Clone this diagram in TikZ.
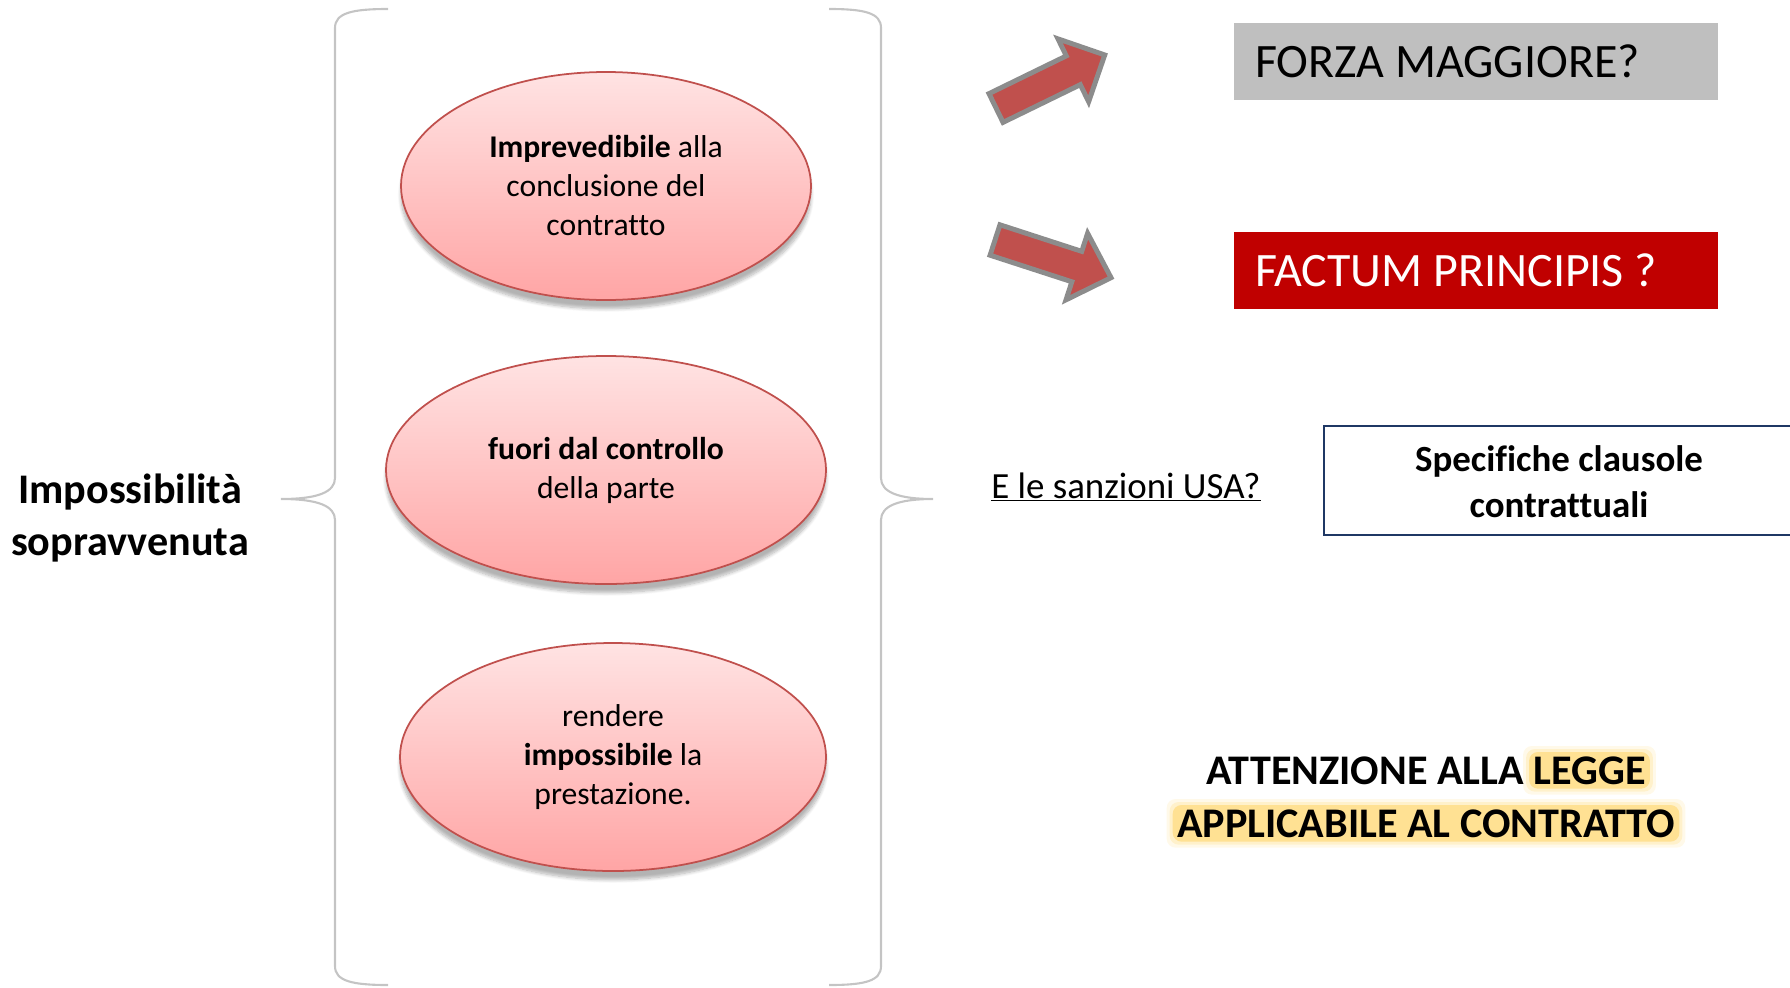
\documentclass[tikz,border=0pt]{standalone}
\usepackage{fontspec}
\setmainfont{Carlito}[Ligatures=CommonOff]
\usetikzlibrary{positioning,calc,shapes.geometric,shadows.blur,backgrounds}

\definecolor{rossobordo}{HTML}{C0504D}
\definecolor{rosachiaro}{HTML}{FFE3E3}
\definecolor{rosascuro}{HTML}{FFA5A5}
\definecolor{grigiofreccia}{HTML}{8C8C8C}
\definecolor{grigiobox}{HTML}{BFBFBF}
\definecolor{grigiograffa}{HTML}{C4C4C4}
\definecolor{rossobox}{HTML}{C00000}
\definecolor{blucornice}{HTML}{1F3864}
\definecolor{giallobagliore}{HTML}{FFE193}

\begin{document}
\begin{tikzpicture}[x=0.02cm, y=-0.02cm,
    ovale/.style={ellipse, draw=rossobordo, line width=1pt,
        top color=rosachiaro, bottom color=rosascuro,
        minimum width=#1, minimum height=228*\pixel, inner sep=0pt,
        align=center, font=\fontsize{18}{22.2}\selectfont,
        blur shadow={shadow xshift=0pt, shadow yshift=-5pt,
            shadow blur steps=8, shadow opacity=30}},
    graffa/.style={draw=grigiograffa, line width=1.2pt},
    freccia/.style={fill=rossobordo, draw=grigiofreccia, line width=2.8pt,
        line join=miter},
    scatola/.style={minimum width=484*\pixel, minimum height=77*\pixel,
        inner xsep=21*\pixel, text width=442*\pixel, align=flush left,
        font=\fontsize{27.3}{32}\selectfont},
    grassetto/.style={font=\bfseries\fontsize{24}{30}\selectfont,
        align=center},
    evidenza/.style={inner sep=0pt,
        font=\bfseries\fontsize{24}{29.5}\selectfont}]
    % unita' di misura (1 pixel del disegno)
    \def\pixel{0.02cm}
    \useasboundingbox (0,0) rectangle (1790,987);

    % titolo a sinistra
    \node[grassetto] (titolo) at (130,518) {Impossibilità\\sopravvenuta};

    % graffa sinistra
    \draw[graffa] (388,9) .. controls (352,9) and (335,13) .. (335,28)
        -- (335,478) .. controls (335,492) and (318,499) .. (281,499)
        .. controls (318,499) and (335,506) .. (335,520)
        -- (335,966) .. controls (335,981) and (352,985) .. (388,985);
    % graffa destra
    \draw[graffa] (829,9) .. controls (865,9) and (881,13) .. (881,28)
        -- (881,478) .. controls (881,492) and (898,499) .. (933,499)
        .. controls (898,499) and (881,506) .. (881,520)
        -- (881,966) .. controls (881,981) and (865,985) .. (829,985);

    % i tre requisiti
    \node[ovale=410*\pixel] (imprev) at (606,186)
        {\textbf{Imprevedibile} alla\\conclusione del\\contratto};
    \node[ovale=440*\pixel] (controllo) at (606,470)
        {\textbf{fuori dal controllo}\\della parte};
    \node[ovale=426*\pixel] (impossibile) at (613,757)
        {rendere\\\textbf{impossibile} la\\prestazione.};

    % frecce a blocco
    \begin{scope}[shift={(996,108)}, rotate=26]
        \draw[freccia] (0,-16) -- (86,-16) -- (86,-35) -- (121,0)
            -- (86,35) -- (86,16) -- (0,16) -- cycle;
    \end{scope}
    \begin{scope}[shift={(995,240)}, rotate=-18]
        \draw[freccia] (0,-16) -- (86,-16) -- (86,-35) -- (122,0)
            -- (86,35) -- (86,16) -- (0,16) -- cycle;
    \end{scope}

    % riquadri a destra
    \node[scatola, fill=grigiobox] (forza) at (1476,61.5) {FORZA MAGGIORE?};
    \node[scatola, fill=rossobox, text=white] (factum) at (1476,270.5)
        {FACTUM PRINCIPIS ?};

    % sanzioni e clausole
    \node[anchor=base west, inner sep=0pt, font=\fontsize{21}{25}\selectfont]
        (sanzioni) at (991,498) {\underline{E le sanzioni USA?}};
    \draw[blucornice, line width=1.4pt]
        (1790,426) -- (1324,426) -- (1324,535) -- (1790,535);
    \node[font=\bfseries\fontsize{21}{26}\selectfont, align=center]
        (clausole) at (1559,482) {Specifiche clausole\\contrattuali};

    % legge applicabile
    \node[evidenza, anchor=base] (riga1) at (1426,784)
        {ATTENZIONE ALLA \phantom{LEGGE}};
    \node[evidenza, anchor=base east] (legge) at (riga1.base east) {LEGGE};
    \node[evidenza, anchor=base] (riga2) at (1426,837)
        {APPLICABILE AL CONTRATTO};
    \begin{scope}[on background layer]
        \foreach \nodo in {legge, riga2} {
            \foreach \d/\o in {10/0.2, 7/0.35, 4/1} {
                \fill[giallobagliore, opacity=\o, rounded corners=5pt]
                    ($(\nodo.south west)+(-\d,\d)$)
                    rectangle ($(\nodo.north east)+(\d,-\d)$);
            }
        }
    \end{scope}

\end{tikzpicture}
\end{document}
